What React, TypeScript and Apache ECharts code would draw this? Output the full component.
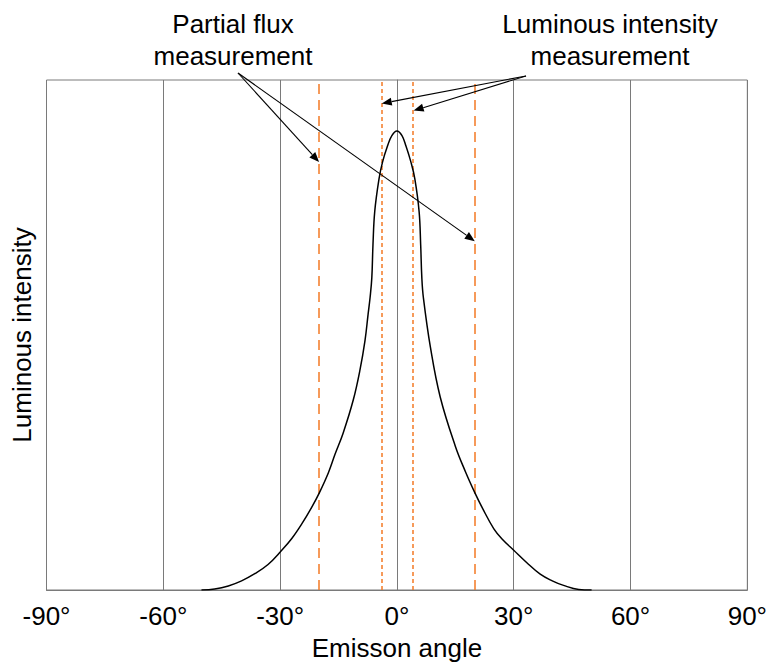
import React, { useEffect, useRef } from "react";
import * as echarts from "echarts";

// x axis ticks (degrees)
const xTicks = [-90, -60, -30, 0, 30, 60, 90];

// luminous intensity distribution (relative units, axis 0..1)
const curveAngles = [
  -50.2, -46.8, -43.3, -39.9, -36.5, -33.1, -29.8, -27, -24.4, -21.9, -19.9, -17.6, -15.9, -13.8, -11.2, -9.5,
  -8.2, -7.4, -6.9, -6.45, -6.15, -5.7, -4.6, -3.7, -2.4, -1.3, 0, 1.3, 2.3, 3.6, 4.6, 5.7, 6.1, 6.4, 6.8, 8.6,
  11.1, 15, 17.6, 20, 22, 24.9, 27, 30, 33.3, 36.8, 39.9, 42.8, 46.7, 50,
];
const curveValues = [
  0, 0.002, 0.008, 0.018, 0.032, 0.05, 0.076, 0.101, 0.13, 0.162, 0.191, 0.23, 0.266, 0.308, 0.373, 0.431,
  0.489, 0.541, 0.573, 0.612, 0.677, 0.742, 0.806, 0.839, 0.871, 0.891, 0.9, 0.891, 0.871, 0.839, 0.806, 0.742, 0.677, 0.612, 0.573, 0.476,
  0.379, 0.282, 0.232, 0.191, 0.16, 0.12, 0.1, 0.078, 0.054, 0.031, 0.018, 0.009, 0.001, 0,
];

// measurement boundaries
const partialFluxAngles = [-20, 20];
const intensityAngles = [-4, 4];

// annotation labels
const partialFluxLabel = ["Partial flux", "measurement"];
const intensityLabel = ["Luminous intensity", "measurement"];

// arrow tips on the measurement lines [angle, value]
const partialFluxArrowTips = [
  [-20, 0.839],
  [20, 0.684],
];
const intensityArrowTips = [
  [-3.9, 0.954],
  [4.3, 0.94],
];

const FONT = '"Liberation Sans", Arial, Helvetica, sans-serif';
const ORANGE = "#f47a25";
const GRID_GRAY = "#7a7a7a";

export default function App() {
  const ref = useRef<HTMLDivElement>(null);

  useEffect(() => {
    if (!ref.current) return;
    const chart = echarts.init(ref.current, undefined, { renderer: "svg" });

    const curveData = curveAngles.map((a, i) => [a, curveValues[i]]);

    const vline = (x: number, dash: number[]) => ({
      xAxis: x,
      lineStyle: { color: ORANGE, type: dash, width: 1.5 },
    });

    chart.setOption({
      animation: false,
      backgroundColor: "#ffffff",
      grid: {
        left: 46.5,
        right: 22.5,
        top: 80,
        bottom: 71,
        show: true,
        borderColor: GRID_GRAY,
        borderWidth: 1,
      },
      xAxis: {
        type: "value",
        min: -90,
        max: 90,
        interval: 30,
        name: "Emisson angle",
        nameLocation: "middle",
        nameGap: 45,
        nameTextStyle: { fontSize: 26, fontFamily: FONT, color: "#000" },
        axisLine: { show: true, lineStyle: { color: GRID_GRAY, width: 1 } },
        axisTick: { show: false },
        axisLabel: {
          margin: 13,
          fontSize: 26,
          fontFamily: FONT,
          color: "#000",
          formatter: (v: number) => (xTicks.includes(v) ? `${v}°` : ""),
        },
        splitLine: { show: true, lineStyle: { color: GRID_GRAY, width: 1 } },
      },
      yAxis: {
        type: "value",
        min: 0,
        max: 1,
        name: "Luminous intensity",
        nameLocation: "middle",
        nameGap: 12,
        nameTextStyle: { fontSize: 26, fontFamily: FONT, color: "#000" },
        axisLine: { show: true, lineStyle: { color: GRID_GRAY, width: 1 } },
        axisTick: { show: false },
        axisLabel: { show: false },
        splitLine: { show: false },
      },
      series: [
        {
          type: "line",
          data: curveData,
          showSymbol: false,
          smooth: 0.4,
          lineStyle: { color: "#000", width: 1.5 },
          z: 5,
          markLine: {
            silent: true,
            symbol: ["none", "none"],
            label: { show: false },
            data: [
              ...partialFluxAngles.map((a) => vline(a, [10, 6])),
              ...intensityAngles.map((a) => vline(a, [4, 3])),
            ],
          },
        },
      ],
    });

    // annotation arrows & labels
    const toPx = (p: number[]) => chart.convertToPixel({ gridIndex: 0 }, p) as number[];
    const arrow = (from: number[], tipData: number[]) => {
      const tip = toPx(tipData);
      const dx = tip[0] - from[0];
      const dy = tip[1] - from[1];
      const len = Math.sqrt(dx * dx + dy * dy);
      const ux = dx / len;
      const uy = dy / len;
      const hl = 10;
      const hw = 4;
      const bx = tip[0] - ux * hl;
      const by = tip[1] - uy * hl;
      return [
        {
          type: "line",
          shape: { x1: from[0], y1: from[1], x2: bx, y2: by },
          style: { stroke: "#000", lineWidth: 1.1 },
          z: 20,
        },
        {
          type: "polygon",
          shape: {
            points: [
              [tip[0], tip[1]],
              [bx - uy * hw, by + ux * hw],
              [bx + uy * hw, by - ux * hw],
            ],
          },
          style: { fill: "#000" },
          z: 20,
        },
      ];
    };

    const leftOrigin = [238, 73];
    const rightOrigin = [526, 76];

    chart.setOption({
      graphic: [
        ...partialFluxArrowTips.flatMap((t) => arrow(leftOrigin, t)),
        ...intensityArrowTips.flatMap((t) => arrow(rightOrigin, t)),
        {
          type: "text",
          x: 233,
          y: 40,
          style: {
            text: partialFluxLabel.join("\n"),
            fontSize: 26,
            fontFamily: FONT,
            fill: "#000",
            align: "center",
            verticalAlign: "middle",
            lineHeight: 32,
          },
          z: 20,
        },
        {
          type: "text",
          x: 610,
          y: 40,
          style: {
            text: intensityLabel.join("\n"),
            fontSize: 26,
            fontFamily: FONT,
            fill: "#000",
            align: "center",
            verticalAlign: "middle",
            lineHeight: 32,
          },
          z: 20,
        },
      ],
    });

    return () => chart.dispose();
  }, []);

  return (
    <div
      ref={ref}
      style={{ position: "fixed", left: 0, top: 0, width: 770, height: 666, background: "#fff" }}
    />
  );
}
